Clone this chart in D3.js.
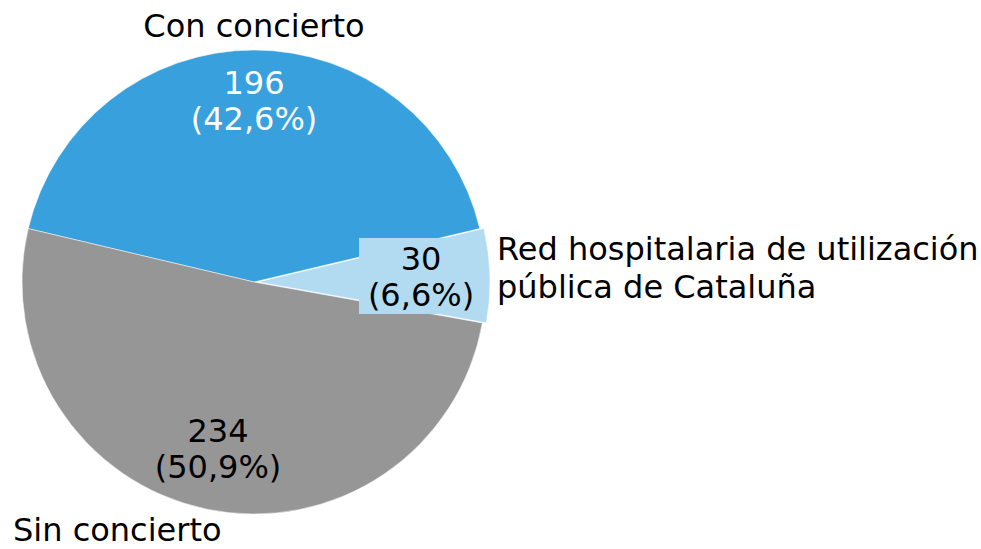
<!DOCTYPE html>
<html>
<head>
<meta charset="utf-8">
<script src="https://cdn.jsdelivr.net/npm/d3@7"></script>
<style>
  body { margin: 0; background: #fff; }
  text { font-family: "DejaVu Sans", Verdana, sans-serif; }
</style>
</head>
<body>
<svg id="chart" width="981" height="549"></svg>
<script>
// data
const categories = ["Con concierto", "Red hospitalaria de utilización pública de Cataluña", "Sin concierto"];
const values = [196, 30, 234];
const percents = ["42,6%", "6,6%", "50,9%"];
const colors = ["#38a1dd", "#b2dbf1", "#969696"];

const svg = d3.select("#chart");
const cx = 254, cy = 282, radius = 232;
const fontSize = 32;

const total = d3.sum(values);
// first slice centred at the top
const start = -Math.PI * values[0] / total;

let pie = d3.pie()
  .sort(null)
  .startAngle(start)
  .endAngle(start + 2 * Math.PI);

let arc = d3.arc().innerRadius(0).outerRadius(radius);

const slices = pie(values);
const g = svg.append("g").attr("transform", `translate(${cx},${cy})`);

// small offset for the exploded slice
function offset(d, i) {
  if (i !== 1) return [0, 0];
  let a = (d.startAngle + d.endAngle) / 2;
  return [Math.sin(a) * 4, -Math.cos(a) * 4];
}

g.selectAll("path")
  .data(slices)
  .join("path")
  .attr("d", arc)
  .attr("transform", (d, i) => `translate(${offset(d, i)})`)
  .attr("fill", (d, i) => colors[i])
  .attr("stroke", "#fff")
  .attr("stroke-width", 0.5);

// data labels (value + percent)
const labelPos = [[0, -180], [167, -4], [-36, 168]];
const labelColor = ["#fff", "#000", "#000"];

slices.forEach((d, i) => {
  let lg = g.append("g").attr("transform", `translate(${labelPos[i]})`);
  if (i === 1) {
    lg.append("rect")
      .attr("x", -62).attr("y", -40)
      .attr("width", 126).attr("height", 76)
      .attr("fill", colors[1]);
  }
  let t = lg.append("text")
    .attr("text-anchor", "middle")
    .attr("font-size", fontSize)
    .attr("fill", labelColor[i]);
  t.append("tspan").attr("x", 0).attr("y", -8).text(values[i]);
  t.append("tspan").attr("x", 0).attr("y", 28).text(`(${percents[i]})`);
});

// category labels
svg.append("text")
  .attr("x", 254).attr("y", 37)
  .attr("text-anchor", "middle")
  .attr("font-size", fontSize)
  .text(categories[0]);

let red = svg.append("text")
  .attr("font-size", fontSize);
red.append("tspan").attr("x", 497).attr("y", 260).text("Red hospitalaria de utilización");
red.append("tspan").attr("x", 497).attr("y", 298).text("pública de Cataluña");

svg.append("text")
  .attr("x", 13).attr("y", 541)
  .attr("font-size", fontSize)
  .text(categories[2]);
</script>
</body>
</html>
